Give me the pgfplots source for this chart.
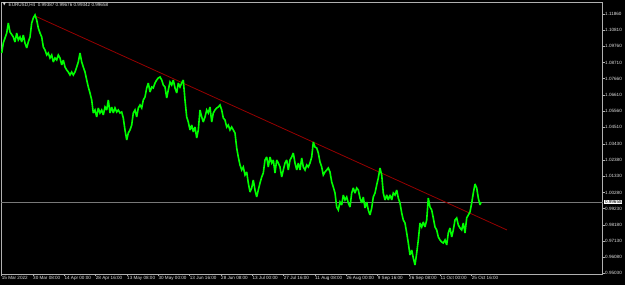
\documentclass[border=0pt]{standalone}
\usepackage{pgfplots}
\pgfplotsset{compat=1.18}
\usepackage{fontspec}
\setmainfont{Liberation Sans}
\newfontfamily\dejavu{DejaVu Sans}
\definecolor{mtgreen}{RGB}{0,255,0}
\definecolor{mtred}{RGB}{150,0,0}
\definecolor{mtframe}{RGB}{176,176,176}
\definecolor{mtbid}{RGB}{120,120,120}
\definecolor{mttext}{RGB}{225,225,225}
\pgfplotstableread{
x p
1.7 1.09330
3.3 1.09979
6.7 1.10628
8.3 1.11277
10 1.10693
13.3 1.10369
15 1.10044
16.7 1.10628
18.3 1.10174
20 1.10369
21.7 1.10044
23.3 1.10499
25 1.09979
26.7 1.09655
28.3 1.10044
30 1.10369
31.7 1.11277
33.3 1.11602
35 1.11797
36.7 1.11472
38.3 1.10953
40 1.10628
41.7 1.10369
43.3 1.09720
45 1.09525
46.7 1.09201
48.3 1.09330
50 1.09006
51.7 1.09201
53.3 1.08746
55 1.09006
56.7 1.08876
58.3 1.09201
60 1.09006
61.7 1.08552
63.3 1.08876
65 1.08422
66.7 1.08227
68.3 1.08097
70 1.07903
71.7 1.08097
73.3 1.07903
75 1.08097
76.7 1.08422
78.3 1.08746
80 1.09330
81.7 1.08746
83.3 1.08422
85 1.08097
86.7 1.07578
88.3 1.07124
90 1.06734
91.7 1.06280
93.3 1.05436
95 1.05631
96.7 1.05177
98.3 1.05761
100 1.05436
101.7 1.05631
103.3 1.05307
105 1.05826
106.7 1.05631
108.3 1.06280
110 1.05436
111.7 1.05826
113.3 1.05436
115 1.05761
116.7 1.05501
118.3 1.05631
120 1.05436
121.7 1.05501
123.3 1.05112
125 1.04333
126.7 1.03684
128.3 1.04138
130 1.04333
131.7 1.04658
133.3 1.05436
135 1.05631
136.7 1.05177
138.3 1.05761
140 1.05956
141.7 1.05761
143.3 1.06280
145 1.06475
146.7 1.07059
148.3 1.07383
150 1.06799
151.7 1.07124
153.3 1.07059
155 1.07383
156.7 1.07578
158.3 1.07708
160 1.07773
161.7 1.07578
163.3 1.07254
165 1.07124
166.7 1.06410
168.3 1.06929
170 1.07448
171.7 1.07254
173.3 1.07578
175 1.07059
176.7 1.06734
178.3 1.07383
180 1.07124
181.7 1.07383
183.3 1.07578
185 1.06280
186.7 1.05177
188.3 1.04852
190 1.04333
191.7 1.04658
193.3 1.04203
195 1.04528
196.7 1.03814
198.3 1.04333
200 1.05631
201.7 1.05177
203.3 1.04852
205 1.05177
206.7 1.05631
208.3 1.05436
210 1.05826
211.7 1.04852
213.3 1.05436
215 1.05631
216.7 1.05761
218.3 1.05826
220 1.05956
221.7 1.05631
223.3 1.05112
225 1.04982
226.7 1.04528
228.3 1.04658
230 1.04333
231.7 1.04528
233.3 1.04333
235 1.04138
236.7 1.03165
238.3 1.02581
240 1.02062
241.7 1.01737
243.3 1.01932
245 1.01413
246.7 1.01607
248.3 1.00893
250 1.00309
251.7 1.00569
253.3 1.01088
255 1.00439
256.7 0.99985
258.3 1.00439
260 1.00893
261.7 1.01283
263.3 1.01542
265 1.02386
266.7 1.02581
268.3 1.01932
270 1.02581
271.7 1.02191
273.3 1.02386
275 1.01542
276.7 1.02386
278.3 1.02191
280 1.01932
281.7 1.01283
283.3 1.01737
285 1.02191
286.7 1.02386
288.3 1.01737
290 1.02386
291.7 1.02581
293.3 1.02840
295 1.02191
296.7 1.01737
298.3 1.02191
300 1.01737
301.7 1.02516
303.3 1.01932
305 1.01737
306.7 1.02062
308.3 1.01932
310 1.02191
311.7 1.02581
313.3 1.03554
315 1.03230
316.7 1.03165
318.3 1.02840
320 1.02256
321.7 1.01932
323.3 1.01413
325 1.01607
326.7 1.01737
328.3 1.01867
330 1.01607
331.7 1.00958
333.3 1.00634
335 1.00244
336.7 0.99336
338.3 0.99141
340 0.99660
341.7 0.99466
343.3 1.00115
345 0.99790
346.7 0.99985
348.3 0.99595
350 0.99336
351.7 1.00244
353.3 1.00569
355 1.00244
356.7 1.00569
358.3 1.00439
360 0.99920
361.7 0.99595
363.3 0.99985
365 0.99271
366.7 0.99660
368.3 0.99141
370 0.98817
371.7 0.99271
373.3 0.99985
375 1.00244
376.7 1.00764
378.3 1.01218
380 1.01867
381.7 1.01413
383.3 1.00244
385 0.99790
386.7 1.00115
388.3 0.99790
390 1.00115
391.7 0.99790
393.3 1.00244
395 1.00115
396.7 1.00439
398.3 0.99920
400 0.99595
401.7 0.98946
403.3 0.98492
405 0.98297
406.7 0.97648
408.3 0.96999
410 0.96221
411.7 0.96545
413.3 0.96026
415 0.95572
416.7 0.96350
418.3 0.97194
420 0.98297
421.7 0.98038
423.3 0.98362
425 0.98038
426.7 0.98492
428.3 0.99920
430 0.99336
431.7 0.99141
433.3 0.98622
435 0.98038
436.7 0.97843
438.3 0.97389
440 0.97194
441.7 0.97064
443.3 0.96999
445 0.97194
446.7 0.96870
448.3 0.97648
450 0.97973
451.7 0.97389
453.3 0.97843
455 0.98492
456.7 0.98622
458.3 0.98168
460 0.97973
461.7 0.97843
463.3 0.98297
465 0.97648
466.7 0.98622
468.3 0.98817
470 0.99011
471.7 0.99595
473.3 1.00244
475 1.00828
476.7 1.00569
478.3 0.99920
480 0.99466
481 0.99658
}\closes
\begin{document}
\begin{tikzpicture}
\path[use as bounding box, fill=black] (0pt,0pt) rectangle (625pt,285pt);
\begin{axis}[
  at={(1pt,11pt)}, anchor=south west,
  scale only axis, width=601.5pt, height=272pt,
  xmin=1, xmax=602.5, ymin=0.94987, ymax=1.12640,
  clip=false,
  axis line style={draw=mtframe, line width=0.6pt},
  tick align=outside, xtick pos=left, ytick pos=right, yticklabel pos=right,
  major tick length=2pt,
  tick style={draw=mtframe, line width=0.5pt},
  xtick={1.7,33,64.4,95.7,127,158.4,189.7,221,252.4,283.7,315,346.4,377.7,409,440.4,471.7},
  xticklabels={15 Mar 2022,30 Mar 08:00,14 Apr 00:00,28 Apr 16:00,13 May 08:00,30 May 00:00,13 Jun 16:00,28 Jun 08:00,13 Jul 00:00,27 Jul 16:00,11 Aug 08:00,26 Aug 00:00,9 Sep 16:00,26 Sep 08:00,11 Oct 00:00,25 Oct 16:00},
  xticklabel style={anchor=north west, inner sep=0pt, text=mttext, font=\fontsize{4.6pt}{5pt}\selectfont},
  ytick={0.95030,0.96080,0.97130,0.98180,0.99230,1.00280,1.01330,1.02380,1.03430,1.04510,1.05560,1.06610,1.07660,1.08710,1.09760,1.10810,1.11860},
  yticklabels={0.95030,0.96080,0.97130,0.98180,0.99230,1.00280,1.01330,1.02380,1.03430,1.04510,1.05560,1.06610,1.07660,1.08710,1.09760,1.10810,1.11860},
  yticklabel style={anchor=west, inner sep=0pt, xshift=0.5pt, text=mttext, font=\fontsize{4.6pt}{5pt}\selectfont},
]
\addplot[mtbid, line width=0.7pt] coordinates {(1,0.99658) (602.5,0.99658)};
\addplot[mtred, line width=0.8pt] coordinates {(35,1.11732) (507,0.97843)};
\addplot[mtgreen, line width=1.6pt, line join=miter, miter limit=3] table[x=x, y=p] {\closes};
\node[fill=white, text=black, anchor=west, inner xsep=0.8pt, inner ysep=0.6pt, font=\fontsize{4.6pt}{5pt}\selectfont] at (axis cs:604,0.99658) {0.99658};
\end{axis}
\node[text=mttext, inner sep=0pt, font=\dejavu\fontsize{4pt}{4pt}\selectfont] at (4.5pt,280.3pt) {▼};
\node[text=mttext, anchor=west, inner sep=0pt, font=\fontsize{4.6pt}{5pt}\selectfont] at (8.5pt,280.3pt) {EURUSD,H4\ \ 0.99387 0.99676 0.99342 0.99658};
\end{tikzpicture}
\end{document}
